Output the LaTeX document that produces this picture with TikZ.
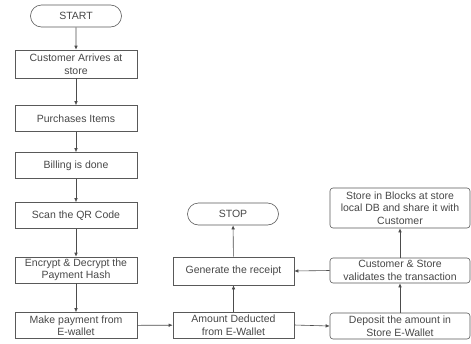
\documentclass[tikz,border=0pt]{standalone}
\usepackage{fontspec}
\setmainfont{Liberation Sans}
\usetikzlibrary{shapes.misc,arrows.meta}
\begin{document}
\begin{tikzpicture}[x=1pt,y=-1pt,
  every node/.style={font=\fontsize{10.5}{12.5}\selectfont, text=black!72, align=center, inner sep=1pt},
  box/.style={draw=black!65, line width=0.6pt, minimum width=122pt, minimum height=26pt},
  rbox/.style={box, rounded corners=3pt, minimum width=140pt},
  term/.style={draw=black!65, line width=0.6pt, rounded rectangle, minimum width=93pt, minimum height=22pt},
  arr/.style={draw=black!70, line width=0.6pt, -{Latex[length=4pt,width=3.5pt]}}]
\useasboundingbox (0,0) rectangle (471,343);
\node[term] (start) at (76,16) {START};
\node[box, minimum height=28pt] (cust) at (76,64) {Customer Arrives at\\store};
\node[box] (purch) at (76,118.5) {Purchases Items};
\node[box] (bill) at (76,165.5) {Billing is done};
\node[box] (scan) at (76,215.5) {Scan the QR Code};
\node[box] (enc) at (76,270) {Encrypt \& Decrypt the\\Payment Hash};
\node[box] (make) at (76,325.5) {Make payment from\\E-wallet};
\node[term] (stop) at (233,214) {STOP};
\node[box, minimum width=121pt, minimum height=28pt] (gen) at (233.5,271) {Generate the receipt};
\node[box, minimum width=121pt] (amt) at (233.5,325) {Amount Deducted\\from E-Wallet};
\node[rbox, minimum height=40pt] (blk) at (400,208) {Store in Blocks at store\\local DB and share it with\\Customer};
\node[rbox, minimum height=25pt] (cs) at (400,270.5) {Customer \& Store\\validates the transaction};
\node[rbox] (dep) at (400,326) {Deposit the amount in\\Store E-Wallet};
\draw[arr] (start) -- (cust);
\draw[arr] (cust) -- (purch);
\draw[arr] (purch) -- (bill);
\draw[arr] (bill) -- (scan);
\draw[arr] (scan) -- (enc);
\draw[arr] (enc) -- (make);
\draw[arr] (make) -- (amt);
\draw[arr] (amt) -- (gen);
\draw[arr] (gen) -- (stop);
\draw[arr] (amt.east) -- (dep.west);
\draw[arr] (dep) -- (cs);
\draw[arr] (cs) -- (blk);
\draw[arr] (cs.west) -- (gen.east);
\end{tikzpicture}
\end{document}
